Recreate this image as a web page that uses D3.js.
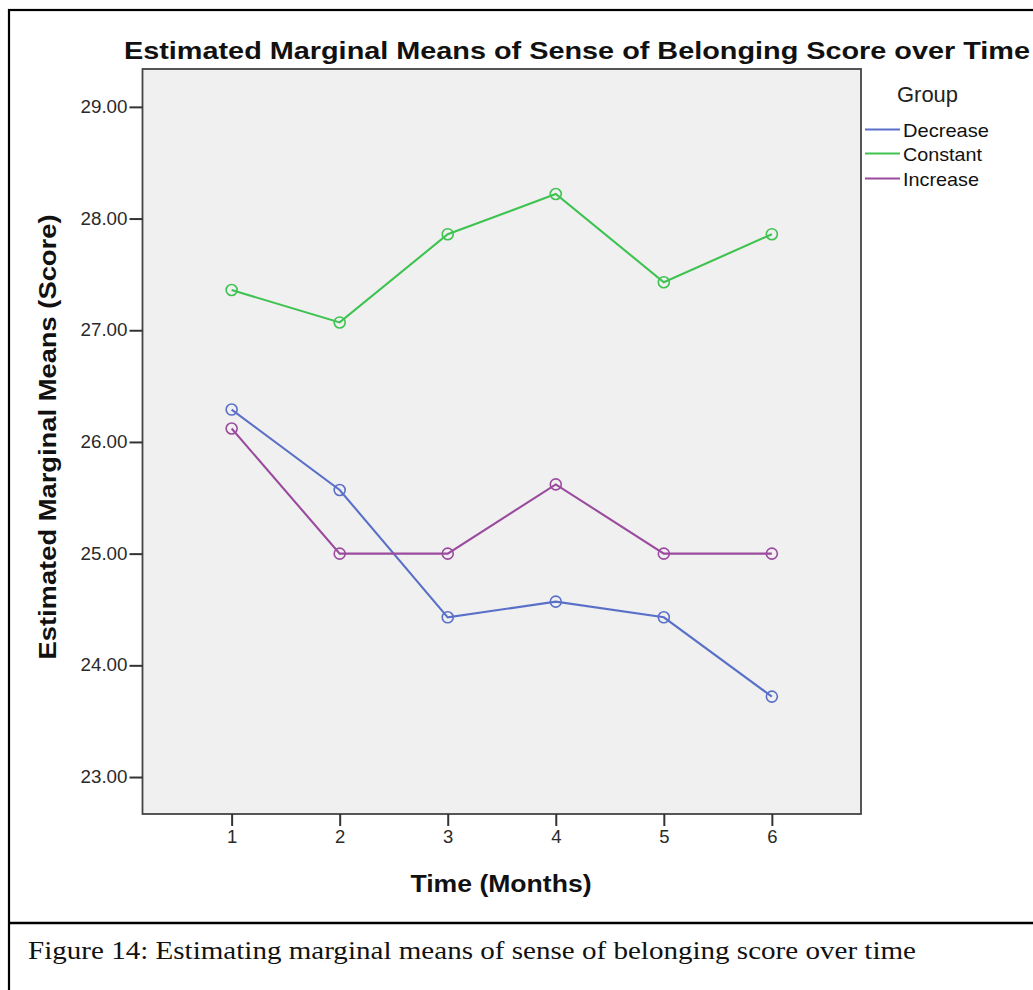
<!DOCTYPE html>
<html><head><meta charset="utf-8">
<script src="https://cdn.jsdelivr.net/npm/d3@7"></script>
<style>body{margin:0;background:#fff;}svg{display:block;}</style>
</head><body>
<svg id="c" width="1033" height="990"></svg>
<script>
const months = [1, 2, 3, 4, 5, 6];
const groups = ["Decrease", "Constant", "Increase"];
const decrease = [26.29, 25.57, 24.43, 24.57, 24.43, 23.72];
const constant = [27.36, 27.07, 27.86, 28.22, 27.43, 27.86];
const increase = [26.12, 25.00, 25.00, 25.62, 25.00, 25.00];
const yTicks = [23, 24, 25, 26, 27, 28, 29];
const colors = ["#5a70c8", "#3ec350", "#9a4b9e"];
const seriesList = [decrease, constant, increase];

const svg = d3.select("#c");
const L = 142.5, R = 861, T = 69, B = 814;
const x = d3.scaleLinear().domain([0.175, 6.825]).range([L, R]);
const y = d3.scaleLinear().domain([22.669, 29.339]).range([B, T]);

// outer frame
svg.append("rect").attr("x", 9).attr("y", 10).attr("width", 1040).attr("height", 1000)
  .attr("fill", "none").attr("stroke", "#000").attr("stroke-width", 2.2);
svg.append("line").attr("x1", 9).attr("x2", 1040).attr("y1", 923).attr("y2", 923)
  .attr("stroke", "#000").attr("stroke-width", 2.6);

// plot background
svg.append("rect").attr("x", L).attr("y", T).attr("width", R - L).attr("height", B - T)
  .attr("fill", "#f0f0f0").attr("stroke", "#444").attr("stroke-width", 1.8);

const tickFont = "Liberation Sans, Arial, sans-serif";
// y axis
const yAxis = svg.append("g").attr("transform", `translate(${L},0)`)
  .call(d3.axisLeft(y).tickValues(yTicks).tickFormat(d3.format(".2f")).tickSize(13).tickPadding(2));
yAxis.select(".domain").remove();
yAxis.selectAll(".tick line").attr("stroke", "#333").attr("stroke-width", 2);
yAxis.selectAll(".tick text").attr("font-family", tickFont).attr("font-size", 17.5)
  .attr("fill", "#2a2a2a").attr("textLength", 47).attr("lengthAdjust", "spacingAndGlyphs");

// x axis
const xAxis = svg.append("g").attr("transform", `translate(0,${B})`)
  .call(d3.axisBottom(x).tickValues(months).tickFormat(d3.format("d")).tickSize(12).tickPadding(4));
xAxis.select(".domain").remove();
xAxis.selectAll(".tick line").attr("stroke", "#333").attr("stroke-width", 2);
xAxis.selectAll(".tick text").attr("font-family", tickFont).attr("font-size", 18.5).attr("fill", "#2a2a2a");

// lines & markers
const line = d3.line().x((d, i) => x(months[i])).y(d => y(d));
seriesList.forEach((s, k) => {
  svg.append("path").datum(s).attr("d", line).attr("fill", "none")
    .attr("stroke", colors[k]).attr("stroke-width", 2.1);
  svg.selectAll(null).data(s).enter().append("circle")
    .attr("cx", (d, i) => x(months[i])).attr("cy", d => y(d)).attr("r", 5.5)
    .attr("fill", "none").attr("stroke", colors[k]).attr("stroke-width", 1.6);
});

// title
svg.append("text").attr("x", 124).attr("y", 59).attr("font-family", tickFont)
  .attr("font-weight", "bold").attr("font-size", 24).attr("fill", "#111")
  .attr("textLength", 906).attr("lengthAdjust", "spacingAndGlyphs")
  .text("Estimated Marginal Means of Sense of Belonging Score over Time");

// axis titles
svg.append("text").attr("x", 501).attr("y", 892).attr("text-anchor", "middle")
  .attr("font-family", tickFont).attr("font-weight", "bold").attr("font-size", 23).attr("fill", "#111")
  .attr("textLength", 181).attr("lengthAdjust", "spacingAndGlyphs").text("Time (Months)");
svg.append("text").attr("transform", "translate(56,437) rotate(-90)").attr("text-anchor", "middle")
  .attr("font-family", tickFont).attr("font-weight", "bold").attr("font-size", 23).attr("fill", "#111")
  .attr("textLength", 445).attr("lengthAdjust", "spacingAndGlyphs").text("Estimated Marginal Means (Score)");

// legend
svg.append("text").attr("x", 897).attr("y", 102).attr("font-family", tickFont)
  .attr("font-size", 22).attr("fill", "#222").attr("textLength", 61).attr("lengthAdjust", "spacingAndGlyphs").text("Group");
const legY = [129.5, 153.5, 178.5];
const legW = [86, 79, 76];
groups.forEach((g, k) => {
  svg.append("line").attr("x1", 865).attr("x2", 900).attr("y1", legY[k]).attr("y2", legY[k])
    .attr("stroke", colors[k]).attr("stroke-width", 2.2);
  svg.append("text").attr("x", 903).attr("y", legY[k] + 7).attr("font-family", tickFont)
    .attr("font-size", 19).attr("fill", "#111").attr("textLength", legW[k]).attr("lengthAdjust", "spacingAndGlyphs").text(g);
});

// caption
svg.append("text").attr("x", 28).attr("y", 959).attr("font-family", "Liberation Serif, DejaVu Serif, serif")
  .attr("font-size", 26).attr("fill", "#111").attr("textLength", 888).attr("lengthAdjust", "spacingAndGlyphs")
  .text("Figure 14: Estimating marginal means of sense of belonging score over time");
</script>
</body></html>
